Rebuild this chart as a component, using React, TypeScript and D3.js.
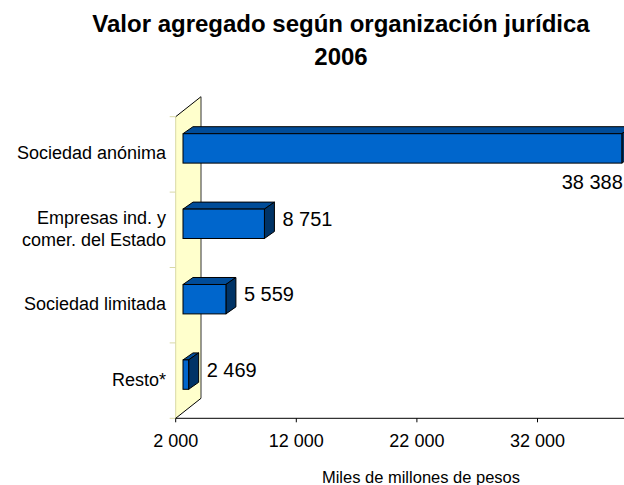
import React from "react";
import * as d3 from "d3";

const categories = ["Sociedad anónima", "Empresas ind. y\ncomer. del Estado", "Sociedad limitada", "Resto*"];
const values = [38388, 8751, 5559, 2469];
const tickValues = [2000, 12000, 22000, 32000];
const tickLabels = ["2 000", "12 000", "22 000", "32 000"];
const titleLines = ["Valor agregado según organización jurídica", "2006"];
const axisTitle = "Miles de millones de pesos";

const W = 624;
const H = 485;
const FONT = "'Liberation Sans', Arial, Helvetica, sans-serif";

const fmt = (v: number) => d3.format(",")(v).replace(/,/g, " ");

export default function App() {
  const x0 = 175.7;
  const yTop = 116.7;
  const yBot = 418.3;
  const wallD = { dx: 25.3, dy: -20 };
  const front = { dx: 7.3, dy: -6 };
  const depth = { dx: 10, dy: -7 };

  const x = d3.scaleLinear().domain([2000, 42000]).range([x0, x0 + 482.4]);
  const band = d3.scaleBand<string>().domain(categories).range([yTop, yBot]).padding(0);
  const barBand = d3
    .scaleBand<string>()
    .domain(categories)
    .range([yTop, yBot])
    .paddingInner(0.61)
    .paddingOuter(0.305);

  const wallPath = `M${x0},${yTop} L${x0 + wallD.dx},${yTop + wallD.dy} L${x0 + wallD.dx},${yBot + wallD.dy} L${x0},${yBot} Z`;

  return (
    <svg width={W} height={H} style={{ position: "absolute", left: 0, top: 0, background: "#fff" }}>
      <rect x={0} y={0} width={W} height={H} fill="#fff" />
      {/* title */}
      <text x={341} y={32} textAnchor="middle" fontFamily={FONT} fontWeight="bold" fontSize={24} fill="#000">
        {titleLines[0]}
      </text>
      <text x={341} y={65} textAnchor="middle" fontFamily={FONT} fontWeight="bold" fontSize={24} fill="#000">
        {titleLines[1]}
      </text>

      {/* wall */}
      <path d={wallPath} fill="#FFFFCC" stroke="none" />
      <line x1={x0} y1={yTop} x2={x0} y2={yBot} stroke="#D9D9A6" strokeWidth={1} />
      <line x1={x0} y1={yTop} x2={x0 + wallD.dx} y2={yTop + wallD.dy} stroke="#000" strokeWidth={1} />
      <line x1={x0 + wallD.dx} y1={yTop + wallD.dy} x2={x0 + wallD.dx} y2={yBot + wallD.dy} stroke="#333" strokeWidth={1} />
      <line x1={x0} y1={yBot} x2={x0 + wallD.dx} y2={yBot + wallD.dy} stroke="#000" strokeWidth={1} />

      {/* category ticks on wall edge */}
      {categories.map((c, i) => (
        <line key={"ct" + i} x1={x0 - 6} x2={x0} y1={band(c)!} y2={band(c)!} stroke="#D9D9A6" strokeWidth={1} />
      ))}
      <line x1={x0 - 6} x2={x0} y1={yBot} y2={yBot} stroke="#D9D9A6" strokeWidth={1} />

      {/* x axis */}
      <line x1={x0} y1={yBot} x2={x.range()[1]} y2={yBot} stroke="#000" strokeWidth={1} />
      {tickValues.map((t, i) => (
        <g key={"t" + i}>
          <line x1={x(t)} x2={x(t)} y1={yBot} y2={yBot + 4} stroke="#000" strokeWidth={1} />
          <text x={x(t)} y={441} textAnchor="middle" dominantBaseline="central" fontFamily={FONT} fontSize={18} fill="#000">
            {tickLabels[i]}
          </text>
        </g>
      ))}
      <text x={421} y={477} textAnchor="middle" dominantBaseline="central" fontFamily={FONT} fontSize={16.5} fill="#000">
        {axisTitle}
      </text>

      {/* category labels */}
      {categories.map((c, i) => {
        const cy = band(c)! + band.bandwidth() / 2 - 1;
        const lines = c.split("\n");
        return (
          <text key={"cl" + i} textAnchor="end" fontFamily={FONT} fontSize={18} fill="#000">
            {lines.map((l, j) => (
              <tspan key={j} x={166} y={cy + (j - (lines.length - 1) / 2) * 22} dominantBaseline="central">
                {l}
              </tspan>
            ))}
          </text>
        );
      })}

      {/* bars */}
      {categories.map((c, i) => {
        const v = values[i];
        const xl = x(2000) + front.dx;
        const xr = x(v) + front.dx;
        const yt = barBand(c)! + front.dy;
        const yb = yt + barBand.bandwidth();
        const topFace = `M${xl},${yt} L${xl + depth.dx},${yt + depth.dy} L${xr + depth.dx},${yt + depth.dy} L${xr},${yt} Z`;
        const sideFace = `M${xr},${yt} L${xr + depth.dx},${yt + depth.dy} L${xr + depth.dx},${yb + depth.dy} L${xr},${yb} Z`;
        const inside = i === 0;
        return (
          <g key={"b" + i}>
            <path d={topFace} fill="#004C99" stroke="#000" strokeWidth={1} strokeLinejoin="round" />
            <path d={sideFace} fill="#003366" stroke="#000" strokeWidth={1} strokeLinejoin="round" />
            <rect x={xl} y={yt} width={xr - xl} height={yb - yt} fill="#0066CC" stroke="#000" strokeWidth={1} />
            <text
              x={inside ? xr + 1 : xr + depth.dx + 8}
              y={inside ? yb + 19 : (yt + yb) / 2 - 5}
              textAnchor={inside ? "end" : "start"}
              dominantBaseline="central"
              fontFamily={FONT}
              fontSize={20}
              fill="#000"
            >
              {fmt(v)}
            </text>
          </g>
        );
      })}
    </svg>
  );
}
